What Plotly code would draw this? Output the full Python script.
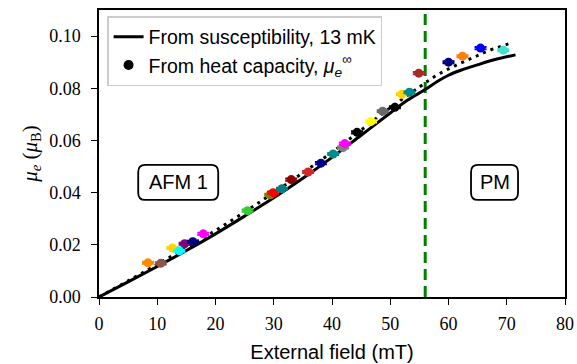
import plotly.graph_objects as go

# Heat-capacity estimates of the effective moment (one colour per sample run)
hc_field = [8.4, 10.6, 12.6, 13.8, 14.7, 16.1, 17.9, 25.5, 29.4, 29.9, 31.4,
            33.0, 35.9, 38.1, 40.2, 41.9, 42.2, 44.3, 46.7, 48.7, 50.8, 52.0,
            53.3, 54.9, 60.0, 62.4, 65.5, 69.4]
hc_mu = [0.0131, 0.0129, 0.0188, 0.0177, 0.0204, 0.0212, 0.0242, 0.0331,
         0.0392, 0.0400, 0.0415, 0.0450, 0.0479, 0.0513, 0.0548, 0.0573,
         0.0588, 0.0631, 0.0673, 0.0712, 0.0727, 0.0777, 0.0785, 0.0858,
         0.0900, 0.0923, 0.0954, 0.0946]
hc_err = [0.0004] * len(hc_field)
hc_colors = ["darkorange", "#8c564b", "gold", "cyan", "purple", "navy",
             "magenta", "limegreen", "olive", "red", "teal", "darkred",
             "#d62728", "darkblue", "darkcyan", "gray", "magenta", "black",
             "yellow", "dimgray", "black", "gold", "darkcyan", "brown",
             "navy", "#ff7f0e", "blue", "turquoise"]

# Susceptibility result at 13 mK
chi_field = [0, 5, 10, 15, 20, 25, 30, 35, 40, 45, 50, 53, 56, 58, 60, 62,
             65, 68, 71.5]
chi_mu = [0, 0.0058, 0.0117, 0.0178, 0.0242, 0.0310, 0.0380, 0.0455, 0.0535,
          0.0620, 0.0705, 0.0755, 0.0795, 0.0825, 0.0850, 0.0868, 0.0890,
          0.0910, 0.0928]

# Guide through the heat-capacity points
guide_field = [0, 10, 20, 30, 40, 45, 50, 55, 58, 61, 64, 67, 71]
guide_mu = [0, 0.0125, 0.0255, 0.0400, 0.0555, 0.0640, 0.0725, 0.0805,
            0.0850, 0.0885, 0.0915, 0.0945, 0.0975]

transition_field = 56

# Phase labels
phase_names = ["AFM 1", "PM"]
phase_x = [13.6, 67.9]
phase_y = [0.0439, 0.0439]

x_ticks = [0, 10, 20, 30, 40, 50, 60, 70, 80]
y_ticks = [0.00, 0.02, 0.04, 0.06, 0.08, 0.10]

X_RANGE = [0, 80]
Y_RANGE = [0, 0.11]
W, H = 577, 364
MARGIN = dict(l=99, r=12, t=10, b=67)
plot_w = W - MARGIN["l"] - MARGIN["r"]
plot_h = H - MARGIN["t"] - MARGIN["b"]
px_x = plot_w / (X_RANGE[1] - X_RANGE[0])   # pixels per mT
px_y = plot_h / (Y_RANGE[1] - Y_RANGE[0])   # pixels per muB

SANS = "Liberation Sans, Arial, Helvetica, sans-serif"
SERIF = "Liberation Serif, Times New Roman, serif"


def rounded_box(cx, cy, w_px, h_px, r_px):
    """SVG path of a rounded rectangle centred on (cx, cy) in data units."""
    hw, hh = w_px / 2 / px_x, h_px / 2 / px_y
    rx, ry = r_px / px_x, r_px / px_y
    x0, x1, y0, y1 = cx - hw, cx + hw, cy - hh, cy + hh
    return (f"M {x0 + rx},{y0} L {x1 - rx},{y0} Q {x1},{y0} {x1},{y0 + ry} "
            f"L {x1},{y1 - ry} Q {x1},{y1} {x1 - rx},{y1} "
            f"L {x0 + rx},{y1} Q {x0},{y1} {x0},{y1 - ry} "
            f"L {x0},{y0 + ry} Q {x0},{y0} {x0 + rx},{y0} Z")


fig = go.Figure()

fig.add_trace(go.Scatter(
    x=guide_field, y=guide_mu, mode="lines", line_shape="spline",
    line=dict(color="black", width=3, dash="3px,5px"), showlegend=False,
    hoverinfo="skip"))

fig.add_trace(go.Scatter(
    x=chi_field, y=chi_mu, mode="lines", line_shape="spline",
    line=dict(color="black", width=3), legendgroup="chi",
    name="From susceptibility, 13 mK"))

for xv, yv, ev, col in zip(hc_field, hc_mu, hc_err, hc_colors):
    fig.add_trace(go.Scatter(
        x=[xv], y=[yv], mode="markers",
        marker=dict(color=col, size=9, line=dict(width=0)),
        error_y=dict(type="data", array=[ev], color=col, thickness=2, width=6),
        showlegend=False))

# legend entry for the heat-capacity series
fig.add_trace(go.Scatter(
    x=[None], y=[None], mode="markers", legendgroup="hc",
    marker=dict(color="black", size=10),
    error_y=dict(type="data", array=[0.001], color="black", thickness=2, width=5),
    name="From heat capacity, <i>μ</i><sub><i>e</i></sub><sup>∞</sup>"))

fig.add_shape(type="line", x0=transition_field, x1=transition_field,
              y0=0, y1=1, yref="paper", layer="below",
              line=dict(color="green", width=3, dash="11px,6px"))

box_sizes = {"AFM 1": (80, 35), "PM": (47, 35)}
for name, xv, yv in zip(phase_names, phase_x, phase_y):
    bw, bh = box_sizes[name]
    fig.add_shape(type="path", path=rounded_box(xv, yv, bw, bh, 7),
                  fillcolor="white", line=dict(color="black", width=1.8))
    fig.add_annotation(x=xv, y=yv, text=name, showarrow=False,
                       font=dict(family=SANS, size=20, color="black"))

axis_common = dict(
    showline=True, linecolor="black", linewidth=1.5, mirror=True,
    ticks="outside", ticklen=6, tickwidth=1.3, tickcolor="black",
    showgrid=False, zeroline=False, automargin=False,
    tickfont=dict(family=SERIF, size=18, color="black"),
)

fig.update_layout(
    width=W, height=H,
    margin=MARGIN,
    paper_bgcolor="white", plot_bgcolor="white",
    xaxis=dict(range=X_RANGE, tickvals=x_ticks,
               ticktext=[str(v) for v in x_ticks],
               ticklabelstandoff=4,
               title=dict(text="External field (mT)", standoff=12,
                          font=dict(family=SANS, size=20, color="black")),
               **axis_common),
    yaxis=dict(range=Y_RANGE, tickvals=y_ticks,
               ticktext=[f"{v:.2f}" for v in y_ticks],
               ticklabelstandoff=7,
               title=dict(text="<i>μ<sub>e</sub></i> (<i>μ</i><sub>B</sub>)",
                          standoff=6,
                          font=dict(family=SERIF, size=21, color="black")),
               **axis_common),
    legend=dict(x=0.018, y=0.978, xanchor="left", yanchor="top",
                bgcolor="white", bordercolor="#cccccc", borderwidth=1.2,
                traceorder="grouped", tracegroupgap=0,
                font=dict(family=SANS, size=19.5, color="black")),
)

fig.write_html("out.html")
